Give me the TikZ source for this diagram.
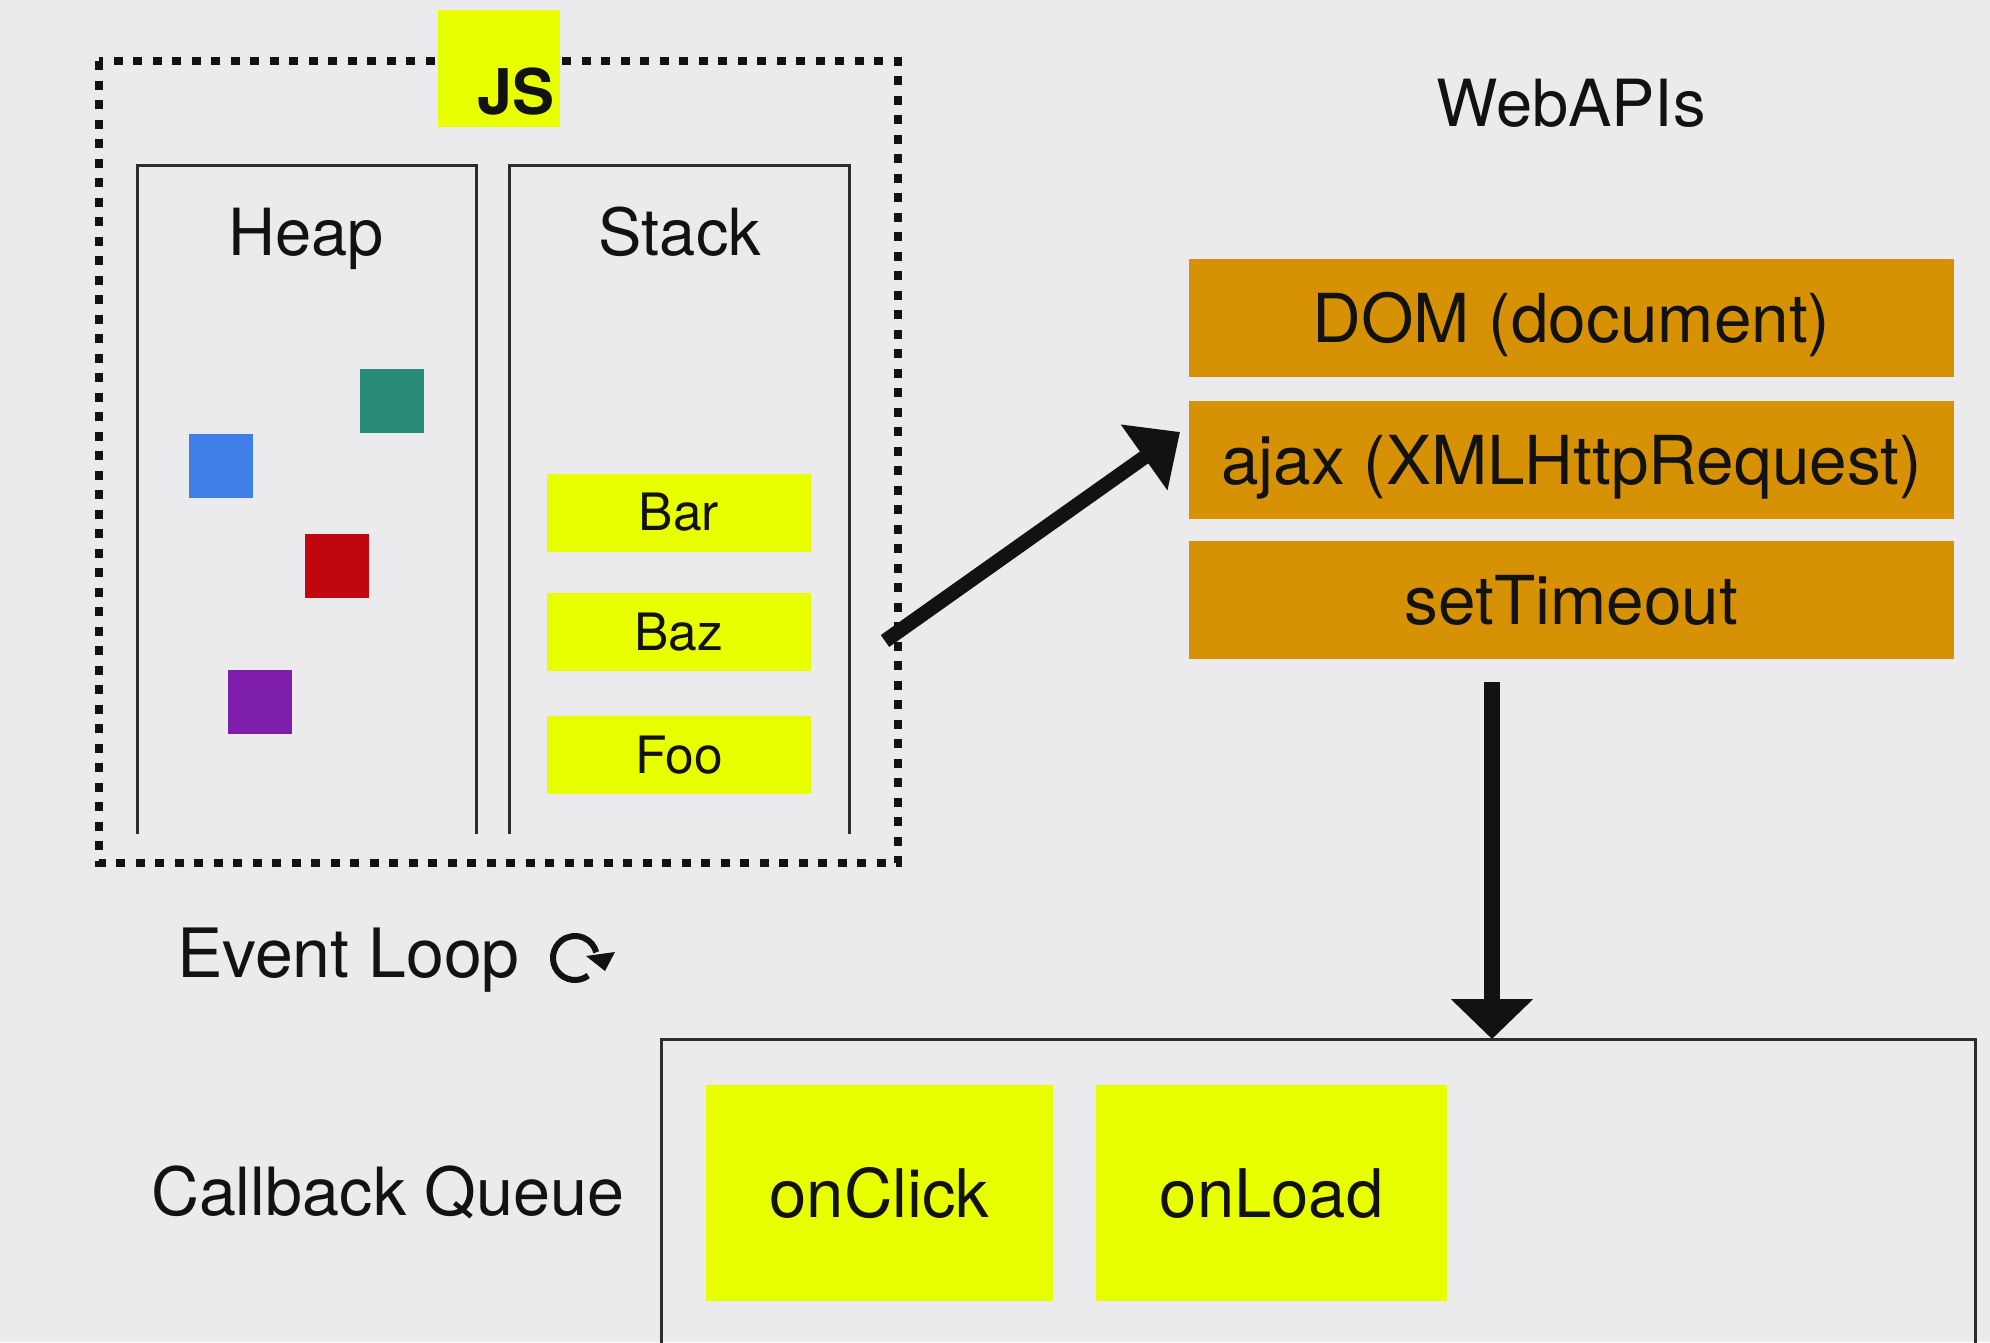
\documentclass[tikz,border=0pt]{standalone}
\usepackage{fontspec}
\setmainfont{TeX Gyre Heros}
\usetikzlibrary{arrows.meta,calc}
\definecolor{bg}{RGB}{235,235,237}
\definecolor{jsyellow}{RGB}{232,255,0}
\definecolor{apiorange}{RGB}{215,145,5}
\definecolor{sqteal}{RGB}{42,138,120}
\definecolor{sqblue}{RGB}{62,126,230}
\definecolor{sqred}{RGB}{192,6,14}
\definecolor{sqpurple}{RGB}{128,30,172}
\definecolor{ink}{RGB}{18,18,18}
\definecolor{frameline}{RGB}{45,45,45}
\tikzset{
  txtsize/.style={font=\fontsize{#1}{#1}\selectfont, text height=0.718*#1 pt, text depth=0pt},
  basetext/.style={text=ink, inner sep=0pt, outer sep=0pt},
  bigtext/.style={basetext, txtsize=65},
  plainbox/.style={inner sep=0pt, outer sep=0pt, draw=none},
  sq/.style={plainbox, minimum width=64pt, minimum height=64pt},
  stackitem/.style={plainbox, fill=jsyellow, minimum width=264pt, minimum height=78pt, basetext, txtsize=51.5},
  apibox/.style={plainbox, fill=apiorange, minimum width=765pt, minimum height=118pt, basetext, txtsize=67.5},
  cbitem/.style={plainbox, fill=jsyellow, minimum height=216pt, basetext, txtsize=67},
  panel/.style={line width=3pt, draw=frameline},
  bigarrow/.style={draw=ink, line width=14.5pt, -{Triangle[length=44pt,width=78pt]}},
}
\begin{document}
\begin{tikzpicture}[x=1pt,y=-1pt]
\fill[bg] (0,0) rectangle (1990,1342);
\useasboundingbox (0,0) rectangle (1990,1342);

% JS runtime frame
\node[plainbox, minimum width=799pt, minimum height=802pt] (jsframe) at (498.5,462) {};
\draw[line width=8pt, draw=ink, dash pattern=on 9pt off 10.5pt] (jsframe.north west) rectangle (jsframe.south east);
\node[plainbox, fill=jsyellow, minimum width=122pt, minimum height=117pt] (js) at (499,68.5) {};
\node[basetext, font=\fontsize{63}{63}\selectfont\bfseries, text height=45.2pt, text depth=0pt] (jstext) at (516,91.5) {JS};

% Heap and Stack panels
\node[plainbox, minimum width=339pt, minimum height=669pt] (heap) at (306.5,499.5) {};
\draw[panel] (heap.south west) |- (heap.north east) -- (heap.south east);
\node[bigtext] (heaptitle) at (306,232) {Heap};
\node[plainbox, minimum width=340pt, minimum height=669pt] (stack) at (679,499.5) {};
\draw[panel] (stack.south west) |- (stack.north east) -- (stack.south east);
\node[bigtext] (stacktitle) at (680,232) {Stack};

% heap objects
\node[sq, fill=sqteal] (sqa) at (392,401) {};
\node[sq, fill=sqblue] (sqb) at (220.5,465.5) {};
\node[sq, fill=sqred] (sqc) at (337,566) {};
\node[sq, fill=sqpurple] (sqd) at (259.5,701.5) {};

% stack frames
\node[stackitem] (bar) at (679,512.5) {Bar};
\node[stackitem] (baz) at (679,632) {Baz};
\node[stackitem] (foo) at (679,755) {Foo};

% Web APIs
\node[bigtext] (webapis) at (1571,103) {WebAPIs};
\node[apibox] (dom) at (1571.5,318) {DOM (document)};
\node[apibox] (ajax) at (1571.5,460) {ajax (XMLHttpRequest)};
\node[apibox] (timeout) at (1571.5,600) {setTimeout};

% Event loop label and icon
\node[basetext, txtsize=68, anchor=west] (evloop) at (177,953) {Event Loop};
\coordinate (loopc) at (575,958);
\draw[line width=6pt, draw=ink]
  ($(loopc)+(53:22)$) arc[start angle=53, end angle=345, radius=22];
\fill[ink] ($(loopc)+(11,-2)$) -- ($(loopc)+(40,-6)$) -- ($(loopc)+(30,13)$) -- cycle;

% Callback queue
\node[basetext, txtsize=66.5, anchor=west] (cblabel) at (151,1192) {Callback Queue};
\node[plainbox, minimum width=1314pt, minimum height=323pt] (queue) at (1318,1200.5) {};
\draw[line width=3pt, draw=frameline] (queue.south west) |- (queue.north east) -- (queue.south east);
\node[cbitem, minimum width=347pt] (onclick) at (879.5,1193) {onClick};
\node[cbitem, minimum width=351pt] (onload) at (1271.5,1193) {onLoad};

% connectors
\coordinate (callsrc) at (885,641);
\draw[bigarrow] (callsrc) -- ($(ajax.north west)+(-9,31)$);
\coordinate (apiout) at (1492,682);
\draw[draw=ink, line width=16pt, -{Triangle[length=40pt,width=80pt]}] (apiout) -- (apiout |- queue.north);
\end{tikzpicture}
\end{document}
